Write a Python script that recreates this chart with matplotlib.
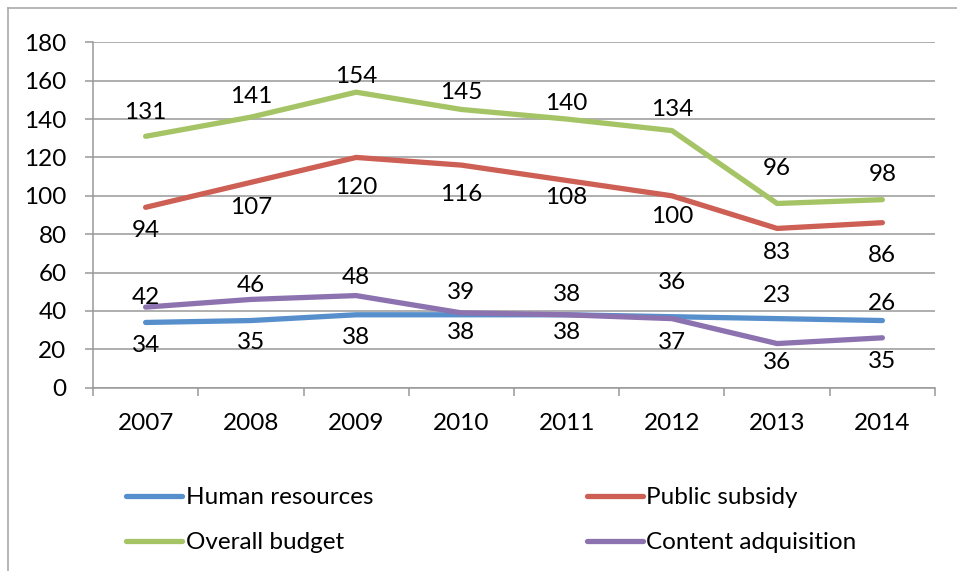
import numpy as np
import matplotlib.pyplot as plt
from matplotlib.lines import Line2D

plt.rcParams['font.family'] = ['Lato', 'DejaVu Sans']

# yearly figures per series
years = ['2007', '2008', '2009', '2010', '2011', '2012', '2013', '2014']
human_resources = [34, 35, 38, 38, 38, 37, 36, 35]
public_subsidy = [94, 107, 120, 116, 108, 100, 83, 86]
overall_budget = [131, 141, 154, 145, 140, 134, 96, 98]
content_adq = [42, 46, 48, 39, 38, 36, 23, 26]

# label offsets (pixels, up is positive) for each value label
hr_off = [-23, -22, -23, -18, -18, -26, -44, -41]
ps_off = [-23, -25, -30, -29, -17, -21, -24, -33]
ob_off = [24, 21, 16, 17, 16, 21, 35, 25]
ca_off = [10, 14, 18, 20, 20, 36, 48, 34]

series = [
    ('Human resources', human_resources, '#568FCB', hr_off),
    ('Public subsidy', public_subsidy, '#CD5F55', ps_off),
    ('Overall budget', overall_budget, '#A5C466', ob_off),
    ('Content adquisition', content_adq, '#8D72B0', ca_off),
]

fs = 17.5
fig = plt.figure(figsize=(9.57, 5.71), dpi=100)
ax = fig.add_axes([93/957, 1 - 387.7/571, (935-93)/957, (387.7-42.3)/571])

x = np.arange(len(years))
handles = {}
for name, vals, color, offs in series:
    line, = ax.plot(x, vals, color=color, lw=3.8, solid_capstyle='round', zorder=3)
    handles[name] = line
    for xi, v, o in zip(x, vals, offs):
        ax.annotate(str(v), (xi, v), xytext=(0, o), textcoords='offset pixels',
                    ha='center', va='center', fontsize=fs, color='black', zorder=4)

grid_c = '#999999'
ax.set_xlim(-0.5, len(years) - 0.5)
ax.set_ylim(0, 180)
ax.set_yticks(range(0, 181, 20))
ax.yaxis.grid(True, color=grid_c, lw=1.1)
ax.set_axisbelow(True)
for s in ['top', 'right']:
    ax.spines[s].set_visible(False)
for s in ['left', 'bottom']:
    ax.spines[s].set_color(grid_c)
    ax.spines[s].set_linewidth(1.1)

ax.set_xticks(x)
ax.set_xticklabels(years)
ax.set_xticks(np.arange(-0.5, len(years)), minor=True)
ax.tick_params(axis='x', which='major', length=0, pad=18, labelsize=fs)
ax.tick_params(axis='x', which='minor', length=6, width=1.1, color=grid_c)
ax.tick_params(axis='y', length=6, width=1.1, color=grid_c, pad=13, labelsize=fs)

order = ['Human resources', 'Overall budget', 'Public subsidy', 'Content adquisition']
fig.legend([handles[n] for n in order], order, ncol=2, frameon=False,
           loc='upper left', bbox_to_anchor=(126/957, 1 - 487/571),
           borderaxespad=0, borderpad=0, fontsize=fs, handlelength=2.3,
           handletextpad=0.15, columnspacing=8.8, labelspacing=1.0)

# outer border of the chart area
fig.add_artist(Line2D([8/957, 8/957], [0, 1 - 8/571], color='#aaaaaa', lw=1.2))
fig.add_artist(Line2D([8/957, 1], [1 - 8/571, 1 - 8/571], color='#aaaaaa', lw=1.2))

fig.savefig('out.png', dpi=100)
